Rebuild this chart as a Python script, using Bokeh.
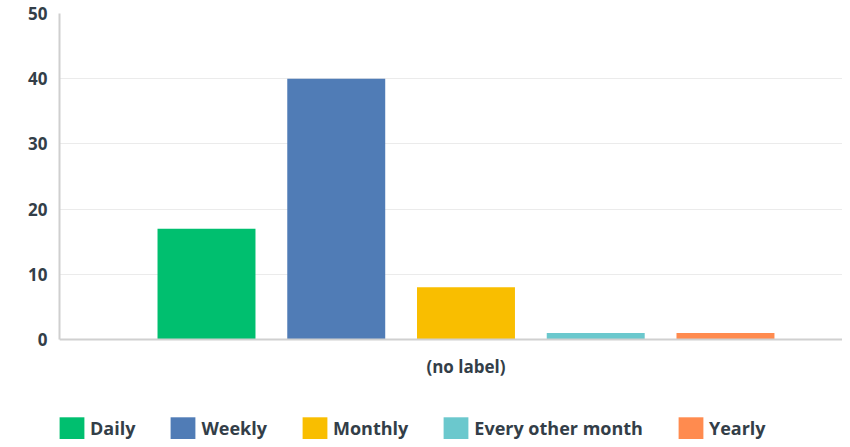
from bokeh.plotting import figure
from bokeh.models import ColumnDataSource, Range1d, FixedTicker, Legend, LegendItem, LinearAxis
from bokeh.embed import file_html
from bokeh.resources import INLINE

categories = ["Daily", "Weekly", "Monthly", "Every other month", "Yearly"]
values = [17, 40, 8, 1, 1]
colors = ["#00bf6f", "#507cb6", "#f9be00", "#6bc8cd", "#ff8b4f"]
y_ticks = [0, 10, 20, 30, 40, 50]
x_label = "(no label)"

TEXT = "#333e48"
FONT = "Open Sans"

src = ColumnDataSource(dict(
    x=list(range(len(categories))),
    top=values,
    category=categories,
    color=colors,
))

# the frame runs down to the bottom so that the legend can sit below the baseline
p = figure(width=842, height=439, output_backend="svg", toolbar_location=None,
           x_range=Range1d(-1.133, 4.902), y_range=Range1d(-15.34, 50),
           x_axis_location=None,
           min_border_left=59, min_border_right=0, min_border_top=13, min_border_bottom=0)
p.outline_line_color = None
p.background_fill_color = "white"

r = p.vbar(x="x", top="top", width=0.755, color="color", source=src, line_color=None)

# y axis
p.yaxis.ticker = FixedTicker(ticks=y_ticks)
p.yaxis.bounds = (0, 50)
p.yaxis.axis_line_color = "#cfcfcf"
p.yaxis.axis_line_width = 2
p.yaxis.major_tick_line_color = None
p.yaxis.minor_tick_line_color = None
p.yaxis.major_label_text_font = FONT
p.yaxis.major_label_text_font_style = "bold"
p.yaxis.major_label_text_font_size = "17px"
p.yaxis.major_label_text_color = TEXT
p.yaxis.major_label_standoff = 6

# x axis drawn at y = 0
xaxis = LinearAxis(fixed_location=0, ticker=FixedTicker(ticks=[2]),
                   major_label_overrides={2: x_label},
                   axis_line_color="#d0d0d0", axis_line_width=2,
                   major_tick_line_color=None, minor_tick_line_color=None,
                   major_label_text_font=FONT, major_label_text_font_style="bold",
                   major_label_text_font_size="17px", major_label_text_color=TEXT,
                   major_label_standoff=10)
p.add_layout(xaxis, "below")

p.xgrid.grid_line_color = None
p.xgrid.visible = False
p.ygrid.ticker = FixedTicker(ticks=y_ticks)
p.ygrid.bounds = (0, 50)
p.ygrid.grid_line_color = "#ebebeb"

items = [LegendItem(label=c, renderers=[r], index=i) for i, c in enumerate(categories)]
legend = Legend(items=items, orientation="horizontal", location=(-3, -3),
                glyph_width=31, glyph_height=28, label_standoff=3, spacing=32,
                padding=0, margin=0, border_line_color=None, background_fill_alpha=0,
                label_text_font=FONT, label_text_font_style="bold",
                label_text_font_size="18px", label_text_color=TEXT, label_height=28)
p.add_layout(legend, "center")

open("out.html", "w").write(file_html(p, INLINE))
